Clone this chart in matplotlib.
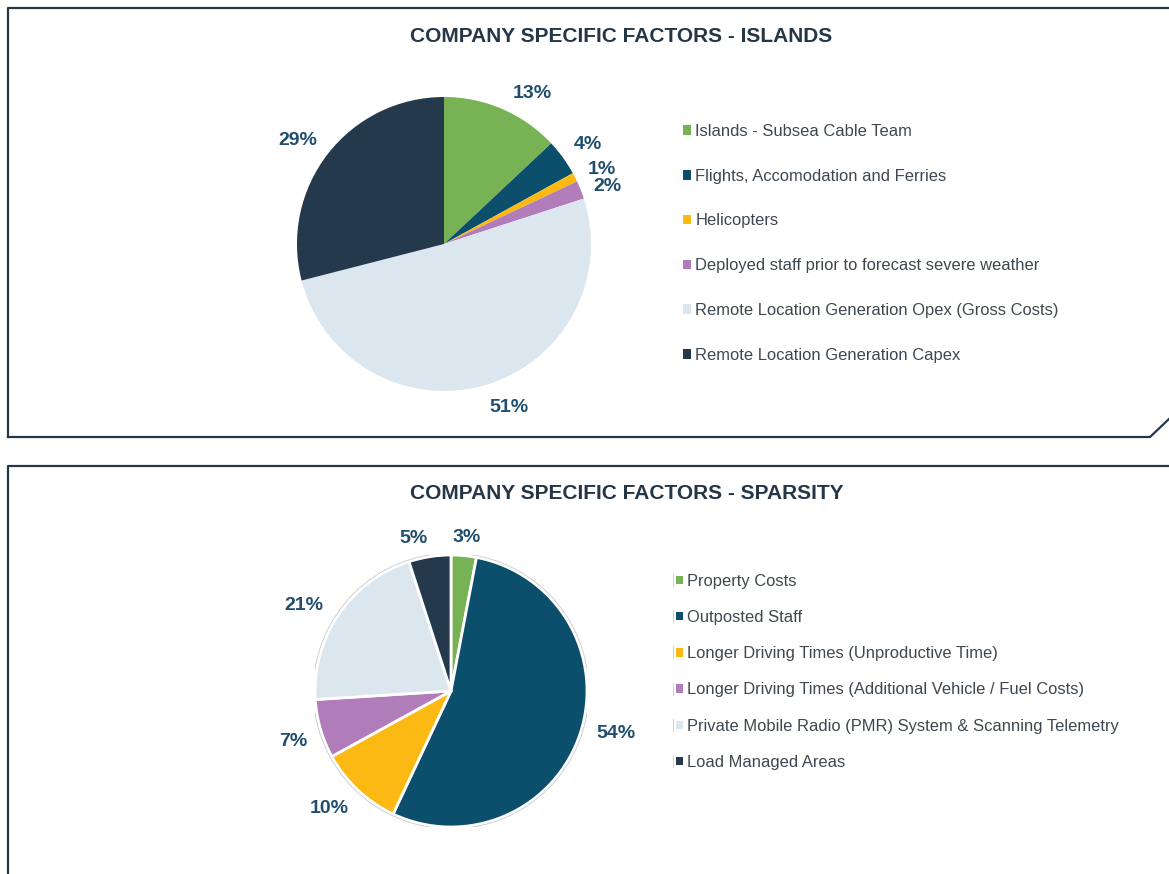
import numpy as np
import matplotlib.pyplot as plt
from matplotlib.lines import Line2D
from matplotlib.patches import Circle
from matplotlib.transforms import ScaledTranslation

plt.rcParams['font.family'] = ['Liberation Sans', 'DejaVu Sans']

W, H = 1169, 874

# islands chart
islands_labels = ['Islands - Subsea Cable Team', 'Flights, Accomodation and Ferries', 'Helicopters',
                  'Deployed staff prior to forecast severe weather',
                  'Remote Location Generation Opex (Gross Costs)', 'Remote Location Generation Capex']
islands_pct = [13, 4, 1, 2, 51, 29]
islands_colors = ['#77B255', '#0B4F6C', '#FDB913', '#B07CBA', '#DCE6EE', '#243A4C']

# sparsity chart
sparsity_labels = ['Property Costs', 'Outposted Staff', 'Longer Driving Times (Unproductive Time)',
                   'Longer Driving Times (Additional Vehicle / Fuel Costs)',
                   'Private Mobile Radio (PMR) System & Scanning Telemetry', 'Load Managed Areas']
sparsity_pct = [3, 54, 10, 7, 21, 5]
sparsity_colors = ['#77B255', '#0B4F6C', '#FDB913', '#B07CBA', '#DCE6EE', '#243A4C']

label_col = '#1F4E6E'
title_col = '#253746'
text_col = '#3E4750'
border_col = '#253746'


def px_axes(fig, cx, cy, r):
    return fig.add_axes([(cx - r) / W, 1 - (cy + r) / H, 2 * r / W, 2 * r / H])


def place_labels(fig, wedges, texts, dist, nudge={}):
    # put the nearest corner of each label box on the slice's middle ray
    for i, (w, t) in enumerate(zip(wedges, texts)):
        ang = np.deg2rad((w.theta1 + w.theta2) / 2)
        c, s = np.cos(ang), np.sin(ang)
        t.set_position((dist * c, dist * s))
        t.set_ha('left' if c >= 0 else 'right')
        t.set_va('baseline' if s >= 0 else 'top')
        if i in nudge:
            dx, dy = nudge[i]
            t.set_transform(t.get_transform() + ScaledTranslation(dx / 100, -dy / 100, fig.dpi_scale_trans))


fig = plt.figure(figsize=(W / 100, H / 100), dpi=100)

# panel borders
lw = 1.6
fig.add_artist(Line2D([8 / W, 8 / W, 1169 / W],
                      [1 - 437 / H, 1 - 8 / H, 1 - 8 / H], color=border_col, lw=lw))
fig.add_artist(Line2D([8 / W, 1150 / W, 1169 / W],
                      [1 - 437 / H, 1 - 437 / H, 1 - 419 / H], color=border_col, lw=lw))
fig.add_artist(Line2D([8 / W, 8 / W, 1169 / W],
                      [0, 1 - 466 / H, 1 - 466 / H], color=border_col, lw=lw))

# top pie
ax1 = px_axes(fig, 444, 244, 147)
w1, t1, a1 = ax1.pie(islands_pct, colors=islands_colors, startangle=90, counterclock=False,
                     autopct='%d%%', pctdistance=1.2,
                     textprops=dict(color=label_col, fontsize=14, fontweight='bold'))
place_labels(fig, w1, a1, 1.095, nudge={0: (5, 2), 2: (0, 3), 3: (0, 6)})
ax1.set_xlim(-1, 1)
ax1.set_ylim(-1, 1)
ax1.set_aspect('equal')
fig.text(621 / W, 1 - 36 / H, 'COMPANY SPECIFIC FACTORS - ISLANDS', ha='center', va='center',
         fontsize=15, fontweight='bold', color=title_col)
leg1 = fig.legend(w1, islands_labels, loc='upper left', bbox_to_anchor=(683 / W, 1 - 124 / H),
                  frameon=False, fontsize=11.9, handlelength=0.5, handleheight=0.5,
                  handletextpad=0.25, labelspacing=1.8, borderpad=0, borderaxespad=0)
for t in leg1.get_texts():
    t.set_color(text_col)

# bottom pie
ax2 = px_axes(fig, 451, 691, 136)
w2, t2, a2 = ax2.pie(sparsity_pct, colors=sparsity_colors, startangle=90, counterclock=False,
                     autopct='%d%%', pctdistance=1.2,
                     wedgeprops=dict(edgecolor='white', linewidth=2),
                     textprops=dict(color=label_col, fontsize=14, fontweight='bold'))
place_labels(fig, w2, a2, 1.10, nudge={0: (-13, 0), 1: (3, -12), 4: (-4, 3)})
ax2.add_patch(Circle((0, 0), 1.013, fill=False, edgecolor='#C9C9C9', lw=0.6))
ax2.set_xlim(-1, 1)
ax2.set_ylim(-1, 1)
ax2.set_aspect('equal')
fig.text(627 / W, 1 - 494 / H, 'COMPANY SPECIFIC FACTORS - SPARSITY', ha='center', va='center',
         fontsize=15, fontweight='bold', color=title_col)
leg2 = fig.legend(w2, sparsity_labels, loc='upper left', bbox_to_anchor=(676 / W, 1 - 574 / H),
                  frameon=False, fontsize=11.9, handlelength=0.4, handleheight=0.4,
                  handletextpad=0.25, labelspacing=1.28, borderpad=0, borderaxespad=0)
for t in leg2.get_texts():
    t.set_color(text_col)
for h in leg2.legend_handles:
    h.set_linewidth(0)

# faint tick to the left of each sparsity legend key
fig.canvas.draw()
for h in leg2.legend_handles:
    bb = h.get_window_extent()
    ym = (bb.y0 + bb.y1) / 2
    fig.add_artist(Line2D([(bb.x0 - 3) / W] * 2, [(ym - 6) / H, (ym + 6) / H],
                          color='#D0D0D0', lw=0.7))

fig.savefig('out.png', dpi=100)
